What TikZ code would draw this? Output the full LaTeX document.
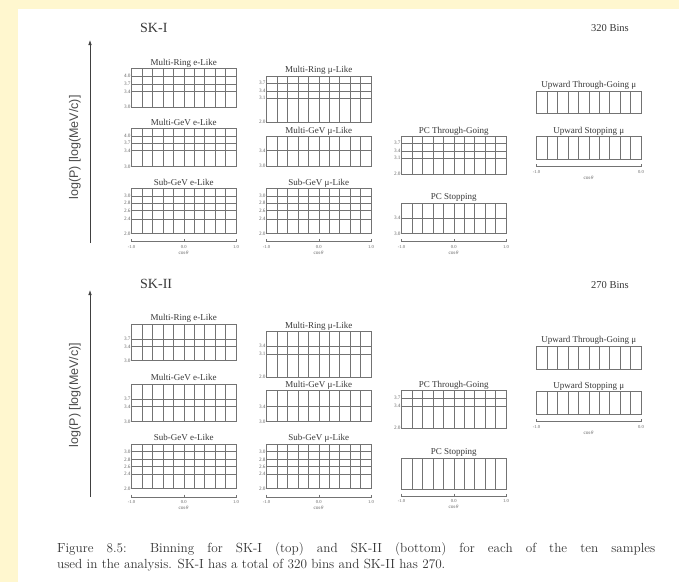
\documentclass[tikz,border=0pt]{standalone}
\usepackage{fontspec}
\usepackage{tikz}
\usetikzlibrary{arrows.meta,positioning}
\usepackage{xcolor}
\definecolor{pageyellow}{rgb}{1.0, 0.97, 0.81}
\definecolor{bingray}{rgb}{0.45, 0.45, 0.45}
\definecolor{titlegray}{rgb}{0.22, 0.22, 0.22}
\definecolor{labelgray}{rgb}{0.4, 0.4, 0.4}
\newfontfamily\panelfont{Liberation Serif}
\newfontfamily\axfont{Liberation Sans}
\tikzset{
    binline/.style={draw=bingray, line width=0.45pt},
    bintitle/.style={font=\panelfont\fontsize{9}{10}\selectfont, text=titlegray, inner sep=0pt, anchor=base},
    binlabel/.style={font=\panelfont\fontsize{5.2}{6}\selectfont, text=labelgray, anchor=east, inner sep=0.8pt},
    ticklabel/.style={font=\panelfont\fontsize{4.6}{5}\selectfont, text=labelgray, inner sep=0pt},
    coslabel/.style={font=\panelfont\fontsize{5.2}{6}\selectfont, text=labelgray, inner sep=0pt},
    sklabel/.style={font=\panelfont\fontsize{14}{16}\selectfont, text=titlegray, anchor=west, inner sep=0pt},
    binsnote/.style={font=\panelfont\fontsize{10.5}{12}\selectfont, text=titlegray, inner sep=0pt},
    plabel/.style={font=\axfont\fontsize{12.5}{14}\selectfont, text=black!70, rotate=90, inner sep=0pt},
    uparrow/.style={-{Latex[length=5pt,width=3.6pt]}, line width=0.8pt, draw=black!75},
}
\newcommand{\binboxplain}[5]{%
    \node[bintitle] (#1) at ({#2+52.25},{#3-3.5}) {#5};
    \draw[binline] (#2,#3) rectangle ({#2+104.5},#4);
    \foreach \k in {1,...,9} \draw[binline] ({#2+\k*10.45},#3) -- ({#2+\k*10.45},#4);
}
\newcommand{\binbox}[6]{%
    \binboxplain{#1}{#2}{#3}{#4}{#5}
    \foreach \yy/\lab [count=\i] in {#6} {
        \draw[binline] (#2,\yy) -- ({#2+104.5},\yy);
        \node[binlabel] (#1l\i) at (#2,\yy) {\lab};
    }
}
\newcommand{\cosaxis}[4]{%
    \draw[binline] (#2,{#3-2.5}) -- (#2,#3) -- ({#2+104.5},#3) -- ({#2+104.5},{#3-2.5});
    \node[ticklabel] (#1a) at (#2,{#3+5}) {-1.0};
    \node[ticklabel] (#1b) at ({#2+104.5},{#3+5}) {#4};
    \node[coslabel] (#1c) at ({#2+52.25},{#3+11}) {cos$\theta$};
}
\newcommand{\cosmid}[3]{%
    \draw[binline] ({#2+52.25},{#3-2.5}) -- ({#2+52.25},#3);
    \node[ticklabel] (#1m) at ({#2+52.25},{#3+5}) {0.0};
}

\begin{document}
\begin{tikzpicture}[x=1pt,y=-1pt]
    \useasboundingbox (0,0) rectangle (679,582);
    \fill[pageyellow] (0,0) rectangle (679,582);
    \fill[white] (17.5,8.7) rectangle (679,582);

    \begin{scope}
        \node[sklabel] (sk1) at (140,28) {SK-I};
        \node[binsnote] (bins1) at (610,28) {320 Bins};

        \coordinate (p1s) at (90,243);
        \coordinate (p1e) at (90,40);
        \draw[uparrow] (p1s) -- (p1e);
        \node[plabel] (p1) at (75,147.5) {log(P) [log(MeV/c)]};

        \binbox{mre1}{131.5}{68.5}{107}{Multi-Ring e-Like}{76/4.0,84/3.7,91.5/3.4,107/3.0}
        \binbox{mgve1}{131.5}{128.5}{166.5}{Multi-GeV e-Like}{136/4.0,143.3/3.7,150.7/3.4,166.5/3.0}
        \binbox{sgve1}{131.5}{188.5}{233.3}{Sub-GeV e-Like}{196/3.0,203.3/2.8,210.7/2.6,219.3/2.4,233.3/2.0}

        \binbox{mrmu1}{266.5}{76}{122.3}{Multi-Ring μ-Like}{83.3/3.7,91/3.4,98.3/3.1,122.3/2.0}
        \binbox{mgvmu1}{266.5}{136.7}{166.3}{Multi-GeV μ-Like}{150.7/3.4,166.3/3.0}
        \binbox{sgvmu1}{266.5}{188.5}{233.3}{Sub-GeV μ-Like}{196/3.0,203.3/2.8,210.7/2.6,219.3/2.4,233.3/2.0}

        \binbox{pct1}{401.5}{136.7}{174.3}{PC Through-Going}{143.3/3.7,151/3.4,158.3/3.1,174.3/2.0}
        \binbox{pcs1}{401.5}{203.3}{233.3}{PC Stopping}{218.3/3.4,233.3/3.0}

        \binboxplain{utg1}{536.5}{91}{113.3}{Upward Through-Going μ}
        \binboxplain{ust1}{536.5}{136.7}{159}{Upward Stopping μ}

        \cosaxis{ax1a}{131.5}{241.7}{1.0} \cosmid{ax1a}{131.5}{241.7}
        \cosaxis{ax1b}{266.5}{241.7}{1.0} \cosmid{ax1b}{266.5}{241.7}
        \cosaxis{ax1c}{401.5}{241.7}{1.0} \cosmid{ax1c}{401.5}{241.7}
        \cosaxis{ax1d}{536.5}{166.7}{0.0}
    \end{scope}

    \begin{scope}
        \node[sklabel] (sk2) at (140,284) {SK-II};
        \node[binsnote] (bins2) at (610,285) {270 Bins};

        \coordinate (p2s) at (90,497);
        \coordinate (p2e) at (90,290);
        \draw[uparrow] (p2s) -- (p2e);
        \node[plabel] (p2) at (75,395) {log(P) [log(MeV/c)]};

        \binbox{mre2}{131.5}{324}{360.7}{Multi-Ring e-Like}{339.3/3.7,346.7/3.4,360.7/3.0}
        \binbox{mgve2}{131.5}{384}{421.7}{Multi-GeV e-Like}{399.3/3.7,406.7/3.4,421.7/3.0}
        \binbox{sgve2}{131.5}{444}{488.3}{Sub-GeV e-Like}{451.7/3.0,459.3/2.8,466.7/2.6,474.3/2.4,488.3/2.0}

        \binbox{mrmu2}{266.5}{331.7}{377}{Multi-Ring μ-Like}{346/3.4,354/3.1,377/2.0}
        \binbox{mgvmu2}{266.5}{390.7}{421.7}{Multi-GeV μ-Like}{406.7/3.4,421.7/3.0}
        \binbox{sgvmu2}{266.5}{444}{488.3}{Sub-GeV μ-Like}{451.7/3.0,459.3/2.8,466.7/2.6,474.3/2.4,488.3/2.0}

        \binbox{pct2}{401.5}{390.7}{428}{PC Through-Going}{398.3/3.7,406/3.4,428/2.0}
        \binboxplain{pcs2}{401.5}{458.3}{489.3}{PC Stopping}

        \binboxplain{utg2}{536.5}{346}{369.3}{Upward Through-Going μ}
        \binboxplain{ust2}{536.5}{391.7}{414}{Upward Stopping μ}

        \cosaxis{ax2a}{131.5}{497}{1.0} \cosmid{ax2a}{131.5}{497}
        \cosaxis{ax2b}{266.5}{497}{1.0} \cosmid{ax2b}{266.5}{497}
        \cosaxis{ax2c}{401.5}{496}{1.0} \cosmid{ax2c}{401.5}{496}
        \cosaxis{ax2d}{536.5}{421.5}{0.0}
    \end{scope}

    \node[anchor=north west, inner sep=0pt, text width=598pt, align=justify,
          font=\fontsize{13.2}{16}\selectfont, text=black!80] (cap) at (57,542)
        {Figure 8.5: Binning for SK-I (top) and SK-II (bottom) for each of the ten samples\linebreak
         used in the analysis. SK-I has a total of 320 bins and SK-II has 270.};
\end{tikzpicture}
\end{document}
